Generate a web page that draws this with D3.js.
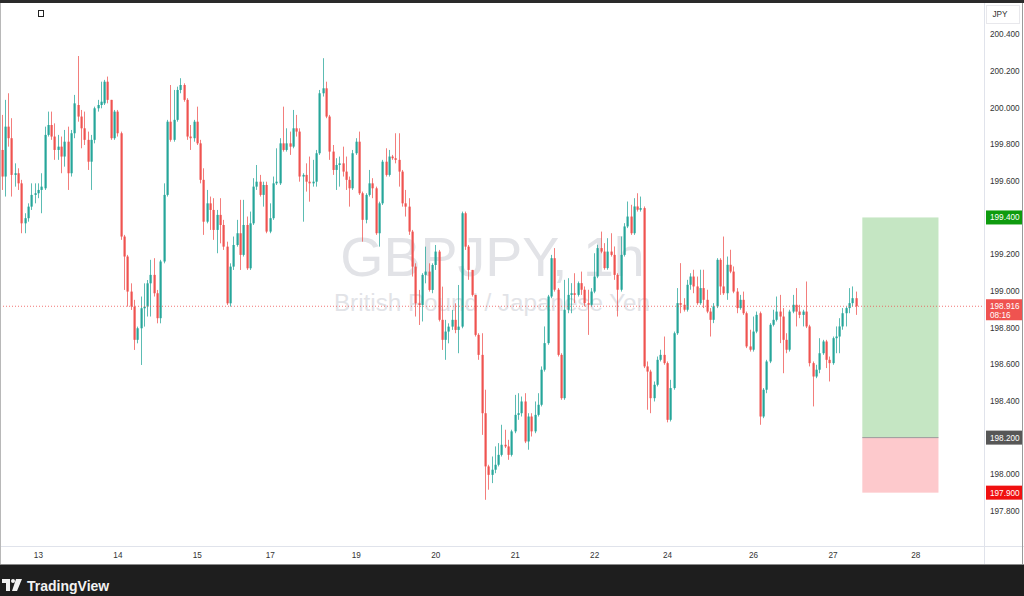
<!DOCTYPE html>
<html><head><meta charset="utf-8">
<script src="https://cdn.jsdelivr.net/npm/d3@7"></script>
<style>html,body{margin:0;padding:0;background:#fff;overflow:hidden}svg{display:block}</style>
</head><body><svg id="c" width="1024" height="596"></svg>
<script>
// ---- DATA (GBPJPY hourly candles) ----
const opens=[199.768,199.623,199.895,199.832,199.632,199.641,199.586,199.368,199.396,199.459,199.523,199.532,199.550,199.559,199.850,199.904,199.841,199.768,199.786,199.732,199.813,199.641,199.859,200.013,199.950,199.886,199.823,199.704,199.823,199.995,200.013,200.022,200.140,200.041,199.832,199.977,199.859,199.296,199.187,198.996,198.914,198.733,198.796,198.905,198.914,199.041,199.087,198.987,198.851,199.160,199.523,199.922,199.823,199.932,200.095,200.122,200.041,199.841,199.832,199.922,199.804,199.605,199.377,199.477,199.441,199.332,199.414,199.359,199.241,198.932,199.132,199.250,199.314,199.196,199.359,199.123,199.368,199.568,199.595,199.523,199.577,199.323,199.396,199.586,199.586,199.804,199.768,199.804,199.786,199.886,199.868,199.623,199.632,199.595,199.586,199.595,199.750,200.077,200.104,199.950,199.759,199.659,199.686,199.695,199.650,199.605,199.559,199.750,199.813,199.532,199.387,199.523,199.586,199.559,199.314,199.477,199.704,199.632,199.732,199.723,199.714,199.650,199.477,199.459,199.323,199.132,198.932,198.923,199.087,199.105,199.005,199.141,199.214,198.842,198.733,198.778,198.805,198.842,198.787,198.805,199.423,199.241,199.114,198.978,198.760,198.651,198.333,198.043,197.997,198.025,198.052,198.106,198.161,198.152,198.106,198.234,198.324,198.333,198.397,198.179,198.315,198.234,198.324,198.379,198.570,198.715,198.969,199.178,199.006,198.651,198.415,198.897,198.978,198.987,198.978,199.042,199.006,198.933,198.924,198.996,199.078,199.233,199.214,199.124,199.214,199.196,199.087,199.006,199.196,199.351,199.405,199.314,199.460,199.442,199.451,198.588,198.560,198.415,198.488,198.624,198.651,198.606,198.297,198.470,198.769,198.933,198.924,198.897,199.033,199.078,199.024,198.933,199.015,198.951,198.887,198.842,198.915,199.169,199.024,198.987,199.142,199.105,198.996,198.906,198.951,198.878,198.697,198.679,198.778,198.878,198.315,198.461,198.615,198.815,198.842,198.887,198.860,198.733,198.679,198.887,198.924,198.887,198.869,198.887,198.806,198.606,198.533,198.570,198.660,198.724,198.624,198.606,198.742,198.751,198.806,198.878,198.906,198.933,198.960];
const highs=[199.959,200.041,200.077,199.941,199.695,199.668,199.605,199.423,199.477,199.586,199.586,199.586,199.641,199.895,199.977,199.977,199.913,199.850,199.841,199.877,199.895,199.877,200.068,200.280,199.986,199.977,199.868,199.850,200.004,200.041,200.140,200.150,200.168,200.041,199.986,199.986,199.868,199.305,199.196,199.041,198.951,198.805,198.969,199.041,199.059,199.169,199.178,199.005,199.169,199.586,199.932,200.122,200.095,200.113,200.159,200.131,200.050,199.904,199.932,200.004,199.823,199.668,199.550,199.514,199.505,199.441,199.505,199.387,199.268,199.150,199.296,199.387,199.496,199.496,199.405,199.432,199.614,199.686,199.632,199.595,199.595,199.477,199.623,199.777,199.832,200.004,199.886,199.868,199.986,199.959,199.886,199.641,199.695,199.732,199.714,199.768,200.095,200.268,200.140,199.959,199.795,199.723,199.732,199.786,199.732,199.623,199.768,199.832,199.868,199.541,199.532,199.659,199.614,199.568,199.486,199.714,199.777,199.768,199.741,199.859,199.859,199.659,199.550,199.505,199.332,199.150,199.005,199.096,199.241,199.150,199.150,199.250,199.223,199.023,198.842,198.823,198.896,198.932,199.032,199.432,199.432,199.250,199.114,198.978,198.769,198.769,198.461,198.052,198.097,198.152,198.170,198.270,198.243,198.188,198.243,198.433,198.442,198.424,198.442,198.333,198.333,198.397,198.442,198.588,198.806,198.978,199.196,199.233,199.015,198.660,199.060,199.069,199.042,199.096,199.051,199.105,199.024,199.006,199.015,199.205,199.251,199.323,199.260,199.287,199.314,199.242,199.096,199.296,199.369,199.487,199.469,199.505,199.532,199.514,199.460,198.615,198.570,198.506,198.642,198.679,198.751,198.615,198.515,198.778,199.015,199.151,198.960,199.060,199.096,199.115,199.078,199.115,199.115,199.006,198.906,198.933,199.178,199.178,199.296,199.187,199.224,199.133,199.015,198.978,198.996,198.887,198.788,198.860,198.887,198.887,198.470,198.624,198.824,198.897,198.969,198.978,198.906,198.769,198.897,198.978,199.015,198.924,198.897,199.051,198.815,198.615,198.597,198.742,198.733,198.733,198.642,198.751,198.806,198.851,198.906,198.915,199.015,199.024,198.996];
const lows=[199.550,199.514,199.786,199.514,199.568,199.550,199.314,199.314,199.377,199.441,199.477,199.505,199.423,199.550,199.841,199.823,199.714,199.714,199.641,199.677,199.550,199.623,199.832,199.922,199.777,199.795,199.659,199.550,199.804,199.977,199.995,200.013,200.022,199.823,199.823,199.841,199.278,199.005,198.914,198.896,198.678,198.714,198.596,198.805,198.860,198.860,198.969,198.823,198.823,199.150,199.514,199.813,199.813,199.922,200.077,200.031,199.823,199.768,199.813,199.795,199.586,199.305,199.368,199.332,199.278,199.205,199.259,199.223,198.923,198.914,199.114,199.241,199.114,199.187,199.114,199.114,199.359,199.550,199.514,199.459,199.314,199.314,199.387,199.577,199.577,199.759,199.759,199.741,199.777,199.841,199.595,199.377,199.541,199.486,199.568,199.568,199.741,200.059,199.941,199.714,199.632,199.550,199.568,199.623,199.550,199.459,199.550,199.741,199.523,199.268,199.368,199.514,199.505,199.305,199.241,199.468,199.623,199.623,199.714,199.695,199.568,199.459,199.405,199.305,199.078,198.860,198.814,198.833,199.041,198.996,198.987,199.114,198.833,198.678,198.624,198.714,198.787,198.769,198.660,198.796,199.223,199.060,198.969,198.751,198.624,198.215,197.861,197.916,197.952,198.006,198.043,198.097,198.143,198.079,198.097,198.224,198.297,198.315,198.170,198.134,198.206,198.224,198.315,198.370,198.560,198.706,198.960,198.996,198.642,198.406,198.406,198.878,198.878,198.933,198.969,198.978,198.915,198.760,198.915,198.987,199.069,199.205,199.115,199.115,199.187,199.060,198.860,198.996,199.187,199.342,199.305,199.305,199.432,199.432,198.579,198.352,198.333,198.397,198.479,198.615,198.597,198.283,198.288,198.461,198.760,198.878,198.887,198.887,199.006,198.987,198.924,198.924,198.906,198.878,198.751,198.824,198.906,198.978,198.978,198.951,199.096,198.987,198.878,198.897,198.869,198.688,198.669,198.669,198.769,198.270,198.306,198.442,198.606,198.806,198.833,198.715,198.551,198.660,198.669,198.878,198.806,198.851,198.806,198.797,198.588,198.370,198.524,198.551,198.651,198.579,198.506,198.597,198.660,198.660,198.788,198.806,198.878,198.915,198.869];
const closes=[199.623,199.895,199.832,199.632,199.641,199.586,199.368,199.396,199.459,199.523,199.532,199.550,199.568,199.850,199.904,199.841,199.768,199.786,199.732,199.813,199.641,199.859,200.022,199.950,199.886,199.823,199.704,199.823,199.995,200.013,200.031,200.140,200.041,199.832,199.977,199.859,199.296,199.187,198.996,198.914,198.733,198.796,198.905,198.914,199.041,199.087,198.987,198.851,199.160,199.523,199.922,199.823,199.932,200.095,200.122,200.041,199.841,199.832,199.922,199.804,199.605,199.377,199.477,199.441,199.332,199.414,199.359,199.241,198.932,199.132,199.250,199.314,199.196,199.359,199.123,199.368,199.568,199.595,199.523,199.577,199.323,199.396,199.586,199.595,199.804,199.768,199.804,199.786,199.886,199.868,199.623,199.632,199.595,199.586,199.595,199.750,200.077,200.104,199.950,199.759,199.659,199.686,199.695,199.650,199.605,199.559,199.750,199.813,199.532,199.387,199.523,199.586,199.559,199.314,199.477,199.704,199.632,199.732,199.723,199.714,199.650,199.477,199.459,199.323,199.132,198.932,198.923,199.087,199.105,199.005,199.141,199.214,198.842,198.733,198.778,198.805,198.842,198.787,198.805,199.423,199.241,199.114,198.978,198.760,198.651,198.333,198.043,197.997,198.025,198.052,198.106,198.161,198.152,198.106,198.234,198.324,198.333,198.397,198.179,198.315,198.234,198.324,198.379,198.570,198.715,198.969,199.178,199.006,198.651,198.415,198.897,198.978,198.987,198.978,199.042,199.006,198.933,198.924,198.996,199.078,199.233,199.214,199.124,199.214,199.196,199.087,199.006,199.196,199.351,199.405,199.314,199.460,199.442,199.451,198.588,198.560,198.415,198.488,198.624,198.651,198.606,198.297,198.470,198.769,198.933,198.924,198.897,199.033,199.078,199.024,198.933,199.015,198.951,198.887,198.842,198.915,199.169,199.024,198.987,199.142,199.105,198.996,198.906,198.951,198.878,198.697,198.679,198.778,198.869,198.315,198.461,198.615,198.815,198.842,198.887,198.860,198.733,198.679,198.887,198.924,198.887,198.869,198.887,198.806,198.606,198.533,198.570,198.660,198.724,198.624,198.606,198.742,198.751,198.806,198.878,198.906,198.933,198.960,198.916];
const priceTicks=[197.8,198.0,198.2,198.4,198.6,198.8,199.0,199.2,199.4,199.6,199.8,200.0,200.2,200.4];
const dayLabels=["13","14","15","17","19","20","21","22","24","26","27","28"];
const dayIndex=[11,35,59,81,107,131,155,179,201,227,251,276];
const lastPrice=198.916, countdown="08:16";
const posTarget=199.4, posEntry=198.2, posStop=197.9;
const posStartIdx=260, posEndIdx=283;
const symbol="GBPJPY, 1h", description="British Pound / Japanese Yen", currency="JPY";

// ---- DRAWING ----
const svg=d3.select('#c');
const FONT='"Liberation Sans", Arial, sans-serif';
const chartR=984, axisB=546;
const x=d3.scaleLinear().domain([0,closes.length-1]).range([1.5,855.7]);
const y=d3.scaleLinear().domain([197.8,200.4]).range([511,34]);
const up='#26a69a', dn='#ef5350';

svg.append('rect').attr('width',1024).attr('height',596).attr('fill','#fff');

// watermark
svg.append('text').attr('x',492.5).attr('y',276).attr('text-anchor','middle')
  .attr('font-family',FONT).attr('font-size',55.5).attr('fill','#e2e3e7').text(symbol);
svg.append('text').attr('x',492).attr('y',311).attr('text-anchor','middle')
  .attr('font-family',FONT).attr('font-size',24.2).attr('fill','#e2e3e7').text(description);

// position tool
const px0=x(posStartIdx), px1=x(posEndIdx);
svg.append('rect').attr('x',px0).attr('width',px1-px0).attr('y',y(posTarget)).attr('height',y(posEntry)-y(posTarget)).attr('fill','#c5e6c3');
svg.append('rect').attr('x',px0).attr('width',px1-px0).attr('y',y(posEntry)).attr('height',y(posStop)-y(posEntry)).attr('fill','#fdc9cc');
svg.append('line').attr('x1',px0).attr('x2',px1).attr('y1',y(posEntry)).attr('y2',y(posEntry)).attr('stroke','#9a9a9a').attr('stroke-width',1);

// candles
svg.append('clipPath').attr('id','cp').append('rect').attr('x',1).attr('y',3).attr('width',chartR-1).attr('height',axisB-3);
const g=svg.append('g').attr('clip-path','url(#cp)');
const idx=d3.range(closes.length);
g.selectAll('line.w').data(idx).join('line').attr('class','w')
  .attr('x1',i=>Math.round(x(i))+0.5).attr('x2',i=>Math.round(x(i))+0.5)
  .attr('y1',i=>y(highs[i])).attr('y2',i=>y(lows[i]))
  .attr('stroke',i=>closes[i]>=opens[i]?up:dn).attr('stroke-opacity',0.75).attr('stroke-width',1);
g.selectAll('rect.b').data(idx).join('rect').attr('class','b')
  .attr('x',i=>Math.round(x(i))-0.5).attr('width',2.2)
  .attr('y',i=>Math.min(y(opens[i]),y(closes[i])))
  .attr('height',i=>Math.max(1,Math.abs(y(opens[i])-y(closes[i]))))
  .attr('fill',i=>closes[i]>=opens[i]?up:dn);

// current price line
svg.append('line').attr('x1',0).attr('x2',chartR).attr('y1',y(lastPrice)).attr('y2',y(lastPrice))
  .attr('stroke',dn).attr('stroke-width',0.8).attr('stroke-dasharray','1,2');

// frames
svg.append('line').attr('x1',chartR+0.5).attr('x2',chartR+0.5).attr('y1',3).attr('y2',564).attr('stroke','#e0e3eb');
svg.append('line').attr('x1',0).attr('x2',1024).attr('y1',axisB+0.5).attr('y2',axisB+0.5).attr('stroke','#e0e3eb');
svg.append('line').attr('x1',0.5).attr('x2',0.5).attr('y1',0).attr('y2',565).attr('stroke','#b8b8b8');
svg.append('line').attr('x1',1022.5).attr('x2',1022.5).attr('y1',0).attr('y2',565).attr('stroke','#9a9a9a');
svg.append('rect').attr('x',0).attr('y',0).attr('width',1024).attr('height',3).attr('fill','#2a2a2a');
svg.append('rect').attr('x',0).attr('y',565).attr('width',1024).attr('height',31).attr('fill','#1e1e1e');
svg.append('line').attr('x1',0).attr('x2',1024).attr('y1',564.5).attr('y2',564.5).attr('stroke','#8a8a8a');

// price axis
const ya=svg.append('g').attr('transform',`translate(${chartR},0)`)
  .call(d3.axisRight(y).tickValues(priceTicks).tickSize(0).tickPadding(6).tickFormat(d3.format('.3f')));
ya.select('.domain').remove();
ya.selectAll('text').attr('font-family',FONT).attr('font-size',8.2).attr('fill','#333');

// time axis
const xa=svg.append('g').attr('transform',`translate(0,${axisB})`)
  .call(d3.axisBottom(x).tickValues(dayIndex).tickSize(0).tickPadding(6).tickFormat((d,i)=>dayLabels[i]));
xa.select('.domain').remove();
xa.selectAll('text').attr('font-family',FONT).attr('font-size',8.2).attr('fill','#333');

// axis labels (boxes)
function tag(v,fill,lines){
  const h=lines.length>1?21:14;
  const top=y(v)-7;
  svg.append('rect').attr('x',chartR+2).attr('y',top).attr('width',36).attr('height',h).attr('fill',fill);
  lines.forEach((t,k)=>svg.append('text').attr('x',chartR+6).attr('y',top+10+k*9)
    .attr('font-family',FONT).attr('font-size',8.2).attr('fill','#fff').text(t));
}
tag(posTarget,'#0e9b0e',[d3.format('.3f')(posTarget)]);
tag(posEntry,'#575757',[d3.format('.3f')(posEntry)]);
tag(posStop,'#f01010',[d3.format('.3f')(posStop)]);
tag(lastPrice,'#ef5350',[d3.format('.3f')(lastPrice),countdown]);

// currency box
svg.append('rect').attr('x',986.5).attr('y',5.5).attr('width',33).attr('height',18).attr('fill','#fff').attr('stroke','#e8e8ec');
svg.append('text').attr('x',1000).attr('y',17).attr('text-anchor','middle').attr('font-family',FONT).attr('font-size',8.2).attr('fill','#333').text(currency);

// small square icon
svg.append('rect').attr('x',38.5).attr('y',10.5).attr('width',5).attr('height',6).attr('fill','none').attr('stroke','#222');

// TradingView footer logo
const lg=svg.append('g').attr('fill','#f2f2f2');
lg.append('rect').attr('x',2).attr('y',579).attr('width',8).attr('height',4);
lg.append('rect').attr('x',6).attr('y',579).attr('width',4).attr('height',12);
lg.append('circle').attr('cx',13).attr('cy',581).attr('r',2);
lg.append('path').attr('d','M16 579 L22 579 L17 591 L12 591 Z');
svg.append('text').attr('x',27).attr('y',591).attr('font-family',FONT).attr('font-weight','bold')
  .attr('font-size',14).attr('fill','#f2f2f2').text('TradingView');
</script></body></html>
